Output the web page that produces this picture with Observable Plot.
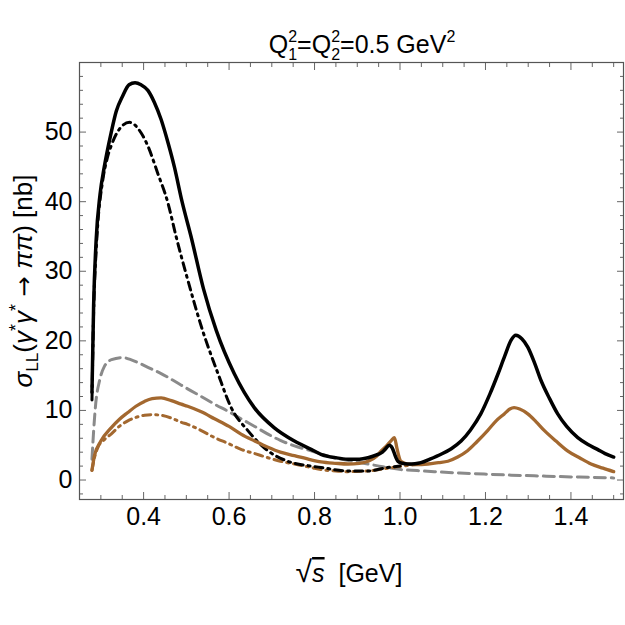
<!DOCTYPE html>
<html>
<head>
<meta charset="utf-8">
<script src="https://cdn.jsdelivr.net/npm/d3@7"></script>
<script src="https://cdn.jsdelivr.net/npm/@observablehq/plot@0.6"></script>
<style>
  body { margin: 0; background: #fff; }
  #chart svg { display: block; }
</style>
</head>
<body>
<div id="chart"></div>
<script>
// Cross sections [nb] versus sqrt(s) [GeV], pairs of [sqrt(s), sigma]
const totalFull = [
  [0.2792, 12.6], [0.283, 25], [0.289, 34.5], [0.298, 41], [0.308, 45], [0.324, 49.9],
  [0.336, 53], [0.351, 55.2], [0.366, 56.8], [0.38, 57.1], [0.394, 56.8], [0.41, 56.0],
  [0.425, 54.3], [0.441, 51.8], [0.457, 48.5], [0.472, 45], [0.49, 40], [0.511, 35],
  [0.54, 27.5], [0.57, 21.5], [0.612, 15.3], [0.659, 10.4], [0.706, 7.5], [0.753, 5.6],
  [0.792, 4.4], [0.815, 3.7], [0.85, 3.2], [0.878, 3.0], [0.905, 3.0], [0.925, 3.2],
  [0.945, 3.6], [0.956, 3.9], [0.965, 4.4], [0.975, 5.0], [0.982, 4.6], [0.99, 3.3],
  [0.995, 2.7], [1.005, 2.4], [1.018, 2.3], [1.035, 2.35], [1.049, 2.5], [1.07, 3.0],
  [1.096, 3.7], [1.12, 4.5], [1.143, 5.6], [1.165, 7.2], [1.189, 9.5], [1.21, 12.3],
  [1.229, 15.2], [1.245, 17.8], [1.26, 20.1], [1.271, 20.8], [1.285, 20.3], [1.299, 19.1],
  [1.315, 16.8], [1.33, 14.3], [1.35, 11.7], [1.369, 9.5], [1.39, 7.7], [1.416, 6.1],
  [1.44, 5.1], [1.462, 4.4], [1.48, 3.8], [1.5, 3.3]
];
const totalSWave = [
  [0.2792, 11.5], [0.283, 24], [0.289, 33], [0.293, 37], [0.303, 42.5], [0.316, 46.5],
  [0.324, 48], [0.343, 50.4], [0.367, 51.4], [0.38, 51.0], [0.394, 49.9], [0.41, 48],
  [0.433, 44.1], [0.457, 39.8], [0.476, 35], [0.5, 29.5], [0.538, 21.5], [0.574, 15.3],
  [0.605, 10.4], [0.644, 7.1], [0.691, 4.2], [0.737, 2.7], [0.792, 2.0], [0.815, 1.8],
  [0.878, 1.3], [0.925, 1.3], [0.971, 1.8], [1.0, 2.0]
];
const bornPion = [
  [0.2792, 3.0], [0.283, 7], [0.288, 11], [0.297, 14.3], [0.308, 16.3], [0.325, 17.3],
  [0.351, 17.6], [0.37, 17.3], [0.386, 16.9], [0.41, 16.2], [0.441, 15.3], [0.47, 14.3],
  [0.503, 13.1], [0.535, 12.0], [0.566, 10.9], [0.6, 9.8], [0.628, 8.8], [0.66, 7.7],
  [0.691, 6.6], [0.72, 5.7], [0.753, 4.9], [0.792, 4.2], [0.846, 3.2], [0.88, 2.8],
  [0.925, 2.3], [0.96, 1.9], [1.002, 1.5], [1.04, 1.35], [1.08, 1.2], [1.14, 1.0],
  [1.197, 0.85], [1.26, 0.7], [1.314, 0.6], [1.4, 0.45], [1.5, 0.3]
];
const neutralFull = [
  [0.2792, 1.4], [0.285, 3.5], [0.3, 5.6], [0.324, 7.5], [0.343, 8.7], [0.363, 9.7],
  [0.382, 10.6], [0.402, 11.3], [0.42, 11.7], [0.441, 11.8], [0.465, 11.4], [0.488, 10.9],
  [0.503, 10.6], [0.535, 9.8], [0.566, 8.8], [0.6, 7.7], [0.628, 6.6], [0.66, 5.6],
  [0.691, 4.7], [0.72, 4.0], [0.753, 3.5], [0.792, 2.9], [0.815, 2.6], [0.85, 2.4],
  [0.878, 2.3], [0.905, 2.4], [0.925, 2.7], [0.945, 3.4], [0.956, 4.2], [0.97, 5.0],
  [0.98, 5.7], [0.987, 6.1], [0.993, 4.5], [1.002, 2.7], [1.018, 2.3], [1.04, 2.2],
  [1.065, 2.3], [1.09, 2.5], [1.112, 2.7], [1.135, 3.3], [1.158, 4.2], [1.18, 5.5],
  [1.205, 7.1], [1.225, 8.5], [1.244, 9.5], [1.257, 10.2], [1.267, 10.4], [1.28, 10.2],
  [1.299, 9.5], [1.318, 8.4], [1.338, 7.1], [1.365, 5.6], [1.392, 4.2], [1.42, 3.2],
  [1.447, 2.3], [1.475, 1.7], [1.5, 1.2]
];
const neutralSWave = [
  [0.2792, 1.4], [0.285, 3.2], [0.293, 4.7], [0.308, 5.8], [0.324, 6.6], [0.343, 7.7],
  [0.363, 8.5], [0.382, 9.0], [0.402, 9.3], [0.42, 9.4], [0.441, 9.3], [0.465, 8.9],
  [0.488, 8.3], [0.503, 8.0], [0.535, 7.1], [0.566, 6.1], [0.6, 5.2], [0.628, 4.4],
  [0.66, 3.8], [0.691, 3.2], [0.72, 2.7], [0.753, 2.3], [0.792, 1.8], [0.815, 1.5],
  [0.85, 1.3], [0.878, 1.2], [0.925, 1.3], [0.971, 1.7], [1.018, 2.1], [1.05, 2.3]
];

// Axis ticks
const xMajor = [0.4, 0.6, 0.8, 1.0, 1.2, 1.4];
const xMinor = [0.3, 0.35, 0.45, 0.5, 0.55, 0.65, 0.7, 0.75, 0.85, 0.9, 0.95,
                1.05, 1.1, 1.15, 1.25, 1.3, 1.35, 1.45, 1.5];
const yMajor = [0, 10, 20, 30, 40, 50];
const yMinor = [-2, 2, 4, 6, 8, 12, 14, 16, 18, 22, 24, 26, 28, 32, 34, 36, 38,
                42, 44, 46, 48, 52, 54, 56, 58];

const brown = "#a3682f";
const gray = "#8a8a8a";
const tickColor = "#666";
const fontFamily = "'Liberation Sans', Arial, sans-serif";
const fontSize = 25;
const dotDash = "8,5,2,5";

const px = d => d[0], py = d => d[1];
const curve = "monotone-x";

const inwardTicks = (axis, anchor, major, minor) => [
  axis(major, {anchor, tickSize: -7, text: null, label: null, stroke: tickColor}),
  axis(minor, {anchor, tickSize: -4, text: null, label: null, stroke: tickColor})
];

const plot = Plot.plot({
  width: 625,
  height: 625,
  marginLeft: 79,
  marginRight: 2,
  marginTop: 62,
  marginBottom: 126,
  style: {fontFamily, color: "#000", background: "#fff"},
  x: {domain: [0.25, 1.523]},
  y: {domain: [-2.8, 60]},
  marks: [
    ...inwardTicks(Plot.axisX, "bottom", xMajor, xMinor),
    ...inwardTicks(Plot.axisX, "top", xMajor, xMinor),
    ...inwardTicks(Plot.axisY, "left", yMajor, yMinor),
    ...inwardTicks(Plot.axisY, "right", yMajor, yMinor),
    Plot.axisX(xMajor, {anchor: "bottom", tickSize: 0, tickPadding: 8, label: null,
      fontSize, tickFormat: d => d.toFixed(1)}),
    Plot.axisY(yMajor, {anchor: "left", tickSize: 0, tickPadding: 7, label: null,
      fontSize, tickFormat: d => String(d)}),
    Plot.line(bornPion, {x: px, y: py, stroke: gray, strokeWidth: 3,
      strokeDasharray: "11,6", curve}),
    Plot.line(neutralSWave, {x: px, y: py, stroke: brown, strokeWidth: 3,
      strokeDasharray: dotDash, curve}),
    Plot.line(totalSWave, {x: px, y: py, stroke: "#000", strokeWidth: 3,
      strokeDasharray: dotDash, curve}),
    Plot.line(neutralFull, {x: px, y: py, stroke: brown, strokeWidth: 3.3, curve}),
    Plot.line(totalFull, {x: px, y: py, stroke: "#000", strokeWidth: 3.5, curve}),
    Plot.frame({stroke: "#555", strokeWidth: 1.2})
  ]
});

document.getElementById("chart").appendChild(plot);

const svg = d3.select(plot);

// Title: Q_1^2 = Q_2^2 = 0.5 GeV^2 with stacked scripts
const title = svg.append("text")
  .attr("x", 362).attr("y", 53)
  .attr("text-anchor", "middle")
  .attr("font-family", fontFamily)
  .attr("font-size", fontSize)
  .attr("fill", "#000");
const scripted = (sup, sub) => {
  title.append("tspan").text("Q");
  title.append("tspan").attr("font-size", 16).attr("dy", -11).text(sup);
  title.append("tspan").attr("font-size", 16).attr("dx", -8.9).attr("dy", 18).text(sub);
};
scripted("2", "1");
title.append("tspan").attr("dy", -7).text("=");
scripted("2", "2");
title.append("tspan").attr("dy", -7).text("=0.5 GeV");
title.append("tspan").attr("font-size", 16).attr("dy", -11).text("2");

// Y axis label: sigma_LL(gamma* gamma* -> pi pi) [nb]
const ylab = svg.append("text")
  .attr("transform", "translate(32,281) rotate(-90)")
  .attr("text-anchor", "middle")
  .attr("font-family", fontFamily)
  .attr("font-size", 26)
  .attr("fill", "#000");
ylab.append("tspan").attr("font-style", "italic").text("σ");
ylab.append("tspan").attr("font-size", 17).attr("dy", 6).text("LL");
ylab.append("tspan").attr("dy", -6).text("(");
ylab.append("tspan").attr("font-style", "italic").text("γ");
ylab.append("tspan").attr("font-size", 18).attr("dy", -10).text("*");
ylab.append("tspan").attr("font-style", "italic").attr("dy", 10).text("γ");
ylab.append("tspan").attr("font-size", 18).attr("dy", -10).text("*");
ylab.append("tspan").attr("dy", 10).attr("font-family", "'DejaVu Sans', sans-serif")
  .attr("font-size", 24).text(" → ");
ylab.append("tspan").attr("font-style", "italic").text("ππ");
ylab.append("tspan").text(") [nb]");

// X axis label: sqrt(s) [GeV]
const xlab = svg.append("text")
  .attr("x", 349).attr("y", 582)
  .attr("text-anchor", "middle")
  .attr("font-family", fontFamily)
  .attr("font-size", fontSize)
  .attr("fill", "#000")
  .attr("xml:space", "preserve");
xlab.append("tspan").attr("font-size", 30).text("√");
xlab.append("tspan").attr("font-style", "italic")
  .style("text-decoration", "overline").text("s");
xlab.append("tspan").text("  [GeV]");
</script>
</body>
</html>
